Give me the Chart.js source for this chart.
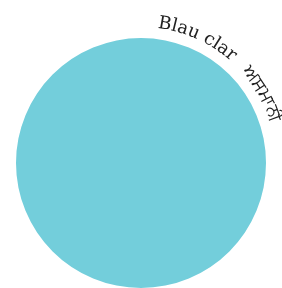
<!DOCTYPE html>
<html>
<head>
<meta charset="utf-8">
<script src="https://cdn.jsdelivr.net/npm/chart.js@4.4.1/dist/chart.umd.min.js"></script>
<style>
  html, body { margin: 0; padding: 0; background: #fff; }
  #wrap { width: 282px; height: 288px; }
</style>
</head>
<body>
<div id="wrap"><canvas id="myChart"></canvas></div>
<script>
const categories = ["Blau clar", "ਅਸਮਾਨੀ"];
const values = [100, 0];
const colors = ["#73cedb", "#73cedb"];

// draws the labels bent along the outside of the circle, one after another
const arcLabels = {
  id: "arcLabels",
  afterDraw(chart) {
    const arc = chart.getDatasetMeta(0).data[0];
    if (!arc) return;
    const ctx = chart.ctx;
    const cx = arc.x, cy = arc.y;
    const r = arc.outerRadius + 11;
    const seg = new Intl.Segmenter(undefined, { granularity: "grapheme" });
    let angle = 7 * Math.PI / 180;
    const gap = 6 * Math.PI / 180;
    ctx.save();
    ctx.font = "18px 'DejaVu Serif'";
    ctx.fillStyle = "#222";
    ctx.textAlign = "center";
    ctx.textBaseline = "alphabetic";
    categories.forEach((label) => {
      for (const { segment } of seg.segment(label)) {
        const w = ctx.measureText(segment).width;
        const a = angle + (w / 2) / r;
        ctx.save();
        ctx.translate(cx + r * Math.sin(a), cy - r * Math.cos(a));
        ctx.rotate(a);
        ctx.fillText(segment, 0, 0);
        ctx.restore();
        angle += w / r;
      }
      angle += gap;
    });
    ctx.restore();
  },
};

const ctx = document.getElementById("myChart").getContext("2d");
new Chart(ctx, {
  type: "pie",
  data: {
    labels: categories,
    datasets: [
      {
        data: values,
        backgroundColor: colors,
        borderWidth: 0,
      },
    ],
  },
  options: {
    responsive: true,
    maintainAspectRatio: false,
    animation: false,
    layout: { padding: { top: 38, left: 16, right: 16, bottom: 0 } },
    plugins: {
      legend: { display: false },
      tooltip: { enabled: false },
    },
  },
  plugins: [arcLabels],
});
</script>
</body>
</html>
